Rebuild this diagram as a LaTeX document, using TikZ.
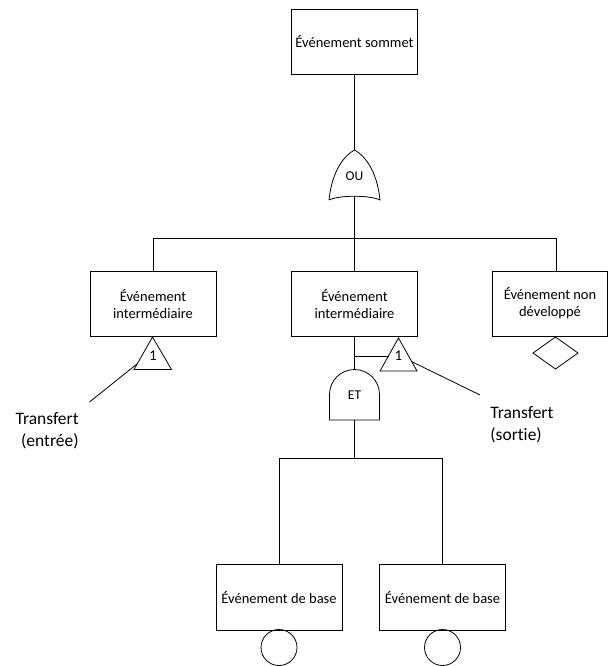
\documentclass[tikz,border=0pt]{standalone}
\usepackage{fontspec}
\setmainfont[Ligatures=NoCommon]{Carlito}
\usepackage{tikz}
\usetikzlibrary{calc}

\tikzset{
  evt/.style={draw, rectangle, line width=0.9pt, minimum width=126, minimum height=65,
    align=center, inner sep=0pt, font=\fontsize{14.5}{17}\selectfont},
  gatetxt/.style={inner sep=0pt, font=\fontsize{13.5}{15}\selectfont},
  trftxt/.style={inner sep=0pt, font=\fontsize{17.5}{22}\selectfont},
}

\begin{document}
\begin{tikzpicture}[x=1pt, y=-1pt, line width=0.8pt]
      \useasboundingbox (0,0) rectangle (608,666);
      % events
      \node [evt] (top) at (354.5,41.5) {Événement sommet};
      \node [evt] (gl) at (153,303.5) {Événement\\intermédiaire};
      \node [evt] (gm) at (354.5,303.5) {Événement\\intermédiaire};
      \node [evt, minimum width=115] (gr) at (550,303.5) {Événement non\\développé};
      \node [evt, minimum height=66] (bl) at (279,597) {Événement de base};
      \node [evt, minimum height=66] (br) at (442.5,597) {Événement de base};
      % OU gate
      \draw (329,200) .. controls (332,170) and (345,155) .. (354.5,150)
            .. controls (364,155) and (377,170) .. (380,200)
            .. controls (370,195) and (339,195) .. (329,200);
      \node [gatetxt] (ou) at (354.5,176) {OU};
      \coordinate (outop) at (354.5,150);
      \coordinate (oubot) at (354.5,196.3);
      \coordinate (bus) at (354.5,238);
      \draw (top) -- (outop);
      \draw (oubot) -- (bus);
      \draw (bus) -| (gl.north);
      \draw (bus) -- (gm.north);
      \draw (bus) -| ([xshift=6pt]gr.north);
      % ET gate
      \draw (329.5,420) -- (329.5,394.5) arc [start angle=180, end angle=0, radius=25pt]
            -- (379.5,420) -- cycle;
      \node [gatetxt] (et) at (354.5,395) {ET};
      \coordinate (ettop) at (354.5,369.5);
      \coordinate (etbot) at (354.5,420);
      \coordinate (bus2) at (354.5,458);
      \draw (gm) -- (ettop);
      \draw (etbot) -- (bus2);
      \draw (bus2) -| (bl.north);
      \draw (bus2) -| (br.north);
      % transfer triangles
      \draw (152.5,337) -- (171.5,369.5) -- (134,369.5) -- cycle;
      \node [gatetxt, font=\fontsize{15}{16}\selectfont] (nl) at (153,356) {1};
      \draw (398.5,338) -- (417,371) -- (380,371) -- cycle;
      \node [gatetxt, font=\fontsize{15}{16}\selectfont] (nm) at (398.5,356) {1};
      \coordinate (tl) at (137,364);
      \coordinate (tm) at (411.5,361.5);
      \coordinate (tmh) at (389,356);
      \draw (354.5,356) -- (tmh);
      \node [trftxt, align=right, anchor=north east] (tin) at (79,412) {Transfert\\(entrée)};
      \node [trftxt, align=left, anchor=north west] (tout) at (490,406) {Transfert\\(sortie)};
      \draw (tl) -- (89.5,402);
      \draw (tm) -- (480,395);
      % undeveloped / basic symbols
      \draw (555.5,337) -- (578,353) -- (555.5,369) -- (533,353) -- cycle;
      \draw (279,647.5) circle (18pt);
      \draw (442.5,647.5) circle (18pt);
\end{tikzpicture}
\end{document}
